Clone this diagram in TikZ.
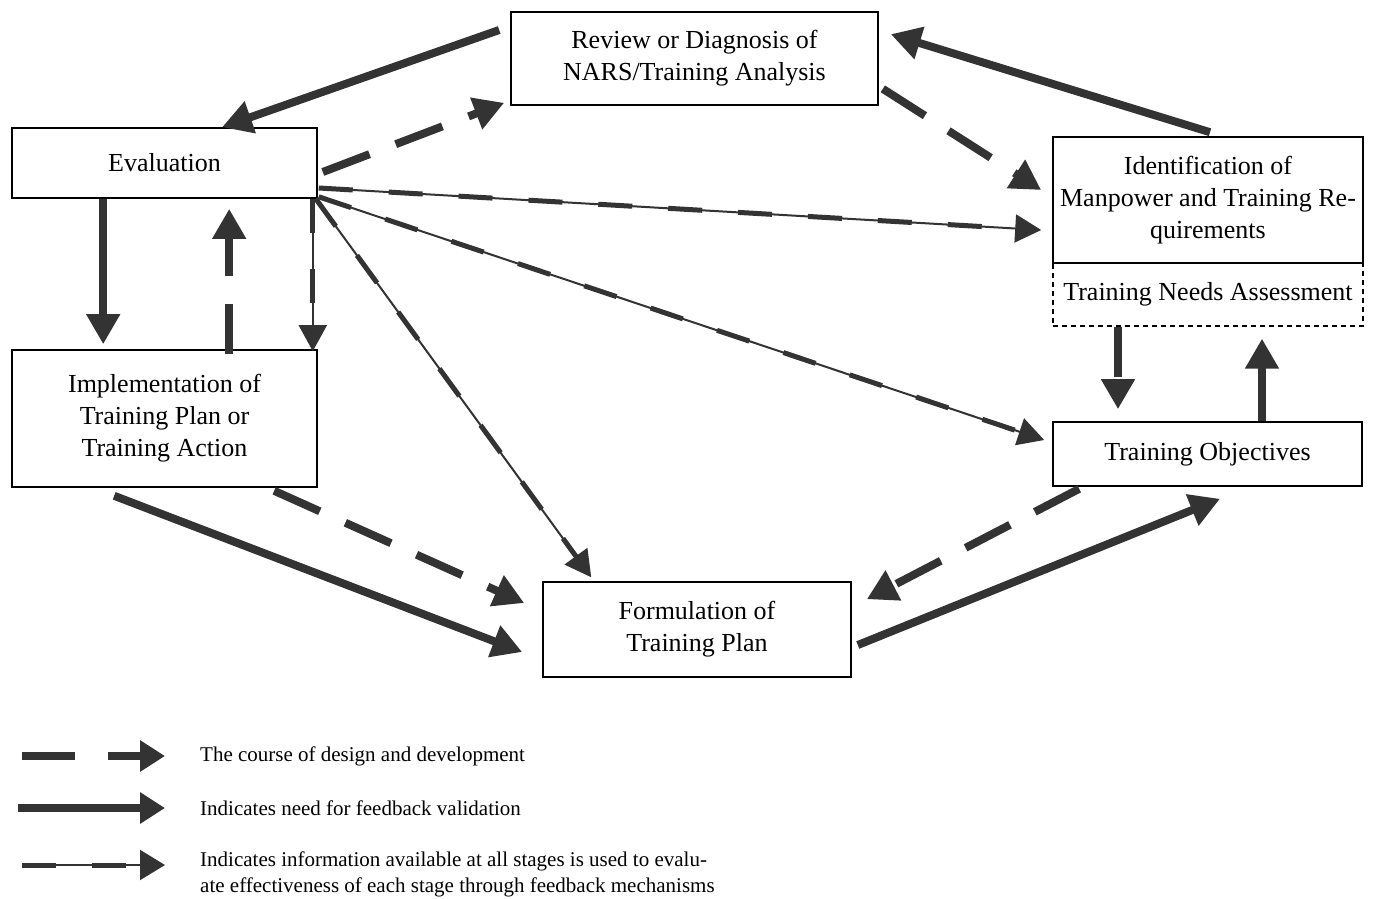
\documentclass[tikz,border=0pt]{standalone}
\usepackage{fontspec}
\setmainfont{Liberation Serif}
\usetikzlibrary{arrows.meta,calc}
\definecolor{ink}{gray}{0.2}
\begin{document}
\begin{tikzpicture}[x=1pt,y=-1pt,
  box/.style={draw=black,line width=1.6pt,rectangle,inner sep=0pt,align=center,
    font=\fontsize{26}{32}\selectfont},
  fb/.style={draw=ink,line width=8pt,line cap=butt,-{Triangle[length=30pt,width=32pt]}},
  dd/.style={fb,dash pattern=on 50pt off 28pt},
  info/.style={draw=ink,line width=2pt,-{Triangle[length=26pt,width=28pt]},
    postaction={draw=ink,-,line width=5pt,dash pattern=on 34pt off 36pt,shorten >=22pt}},
  legtext/.style={anchor=west,align=left,inner sep=0pt,font=\fontsize{21}{26}\selectfont}]
\useasboundingbox (0,0) rectangle (1377,898);

% stages
\node[box,minimum width=367pt,minimum height=93pt] (rev) at (694.5,58.5)
  {Review or Diagnosis of\\NARS/Training Analysis};
\node[box,minimum width=305pt,minimum height=70pt] (eval) at (164.5,163) {Evaluation};
\node[box,minimum width=305pt,minimum height=137pt] (impl) at (164.5,418.5)
  {Implementation of\\Training Plan or\\Training Action};
\node[box,minimum width=310pt,minimum height=126pt] (ident) at (1208,200)
  {Identification of\\Manpower and Training Re-\\quirements};
\node[box,dashed,line width=1.2pt,dash pattern=on 5pt off 4pt,minimum width=310pt,minimum height=63pt] (tna) at (1208,294.5)
  {Training Needs Assessment};
\node[box,minimum width=309pt,minimum height=64pt] (obj) at (1207.5,454) {Training Objectives};
\node[box,minimum width=308pt,minimum height=95pt] (form) at (697,629.5)
  {Formulation of\\Training Plan};

% feedback validation
\draw[fb] ($(rev.west)+(-11,-28.5)$) -- ($(eval.north)+(57.5,0)$);
\draw[fb] ($(ident.north)+(2,-4)$) -- ($(rev.north east)+(12,23)$);
\draw[fb] ($(eval.south west)+(92,0)$) -- ($(impl.north west)+(92,-5)$);
\draw[fb] ($(impl.south west)+(103,8)$) -- ($(form.west)+(-20,22.5)$);
\draw[fb] ($(obj.north)+(54.5,0)$) -- ($(tna.south)+(54,12)$);
\draw[fb] ($(form.east)+(6,15.5)$) -- ($(obj.south)+(12.5,12)$);

% design and development
\draw[dd] ($(eval.east)+(5,9)$) -- ($(rev.south west)+(-6,-3)$);
\draw[dd] ($(rev.south east)+(4,-17)$) -- ($(ident.west)+(-11,-10)$);
\draw[dd] ($(impl.north west)+(218,5)$) -- ($(eval.south west)+(218,10)$);
\draw[dd] ($(impl.south west)+(263,3)$) -- ($(form.west)+(-18,-26.5)$);
\draw[dd] ($(tna.south)+(-90,0)$) -- ($(obj.north)+(-89.5,-12)$);
\draw[dd] ($(obj.south west)+(27,2)$) -- ($(form.north east)+(15,18)$);

% information flow from evaluation
\draw[info] ($(eval.east)+(1,25)$) -- ($(ident.west)+(-11,30)$);
\draw[info] ($(eval.south east)+(1,-2)$) -- ($(obj.west)+(-8,-14)$);
\draw[info] ($(eval.south east)+(-2,0)$) -- ($(form.north west)+(49,-4)$);
\draw[info] ($(eval.south east)+(-5,0)$) -- ($(impl.north east)+(-5,2)$);

% legend
\coordinate (la1) at (22,756);  \coordinate (la2) at (165,756);
\coordinate (lb1) at (18,808);  \coordinate (lb2) at (165,808);
\coordinate (lc1) at (22,865);  \coordinate (lc2) at (165,865);
\draw[fb,dash pattern=on 53pt off 33pt,-{Triangle[length=25pt,width=30pt]}] (la1) -- (la2);
\draw[fb,-{Triangle[length=25pt,width=30pt]}] (lb1) -- (lb2);
\draw[info,-{Triangle[length=25pt,width=30pt]}] (lc1) -- (lc2);
\node[legtext] (t1) at (200,756) {The course of design and development};
\node[legtext] (t2) at (200,808) {Indicates need for feedback validation};
\node[legtext] (t3) at (200,874) {Indicates information available at all stages is used to evalu-\\ate effectiveness of each stage through feedback mechanisms};
\end{tikzpicture}
\end{document}
